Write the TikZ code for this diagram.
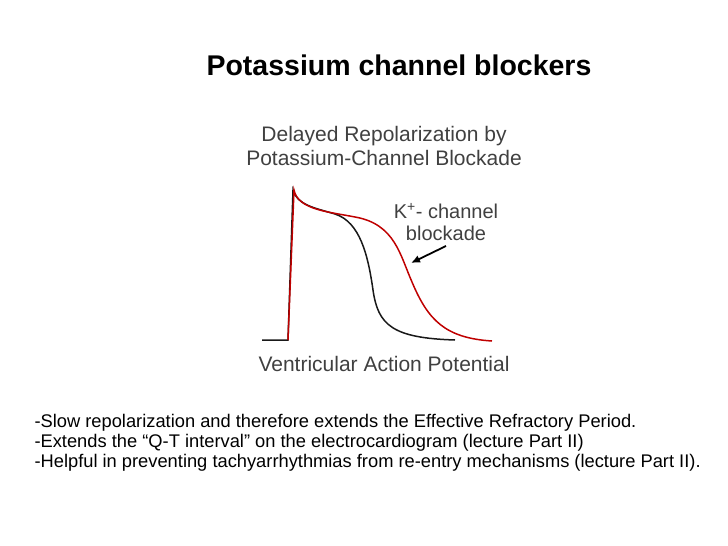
\documentclass[tikz,border=0pt]{standalone}
\usepackage{fontspec}
\usetikzlibrary{arrows.meta}
\setmainfont{Liberation Sans}
\begin{document}
\begin{tikzpicture}[x=1pt,y=-1pt,
  gt/.style={text=black!75,font=\fontsize{21}{24}\selectfont,align=center},
  bt/.style={anchor=west,font=\fontsize{18.3}{22}\selectfont}]
\useasboundingbox (0,0) rectangle (728,546);
\node[font=\bfseries\fontsize{28.5}{32}\selectfont] (title) at (399,65) {Potassium channel blockers};
\node[gt] (t1) at (384,146) {Delayed Repolarization by\\Potassium-Channel Blockade};
\node[gt] (t2) at (384,364) {Ventricular Action Potential};
\node[gt,font=\fontsize{20}{22}\selectfont] (k) at (446,222) {K\textsuperscript{+}- channel\\blockade};
\coordinate (ae) at (411,263);
\draw[line width=1.8pt,-{Latex[length=9pt,width=8pt]}] (446,246) -- (ae);
\draw[line width=1.5pt,black!90] (262,340) -- (288,340) -- (293,190)
  .. controls (297,205) and (315,208) .. (335,214)
  .. controls (360,222) and (368,255) .. (373,290)
  .. controls (378,325) and (392,338) .. (455,340);
\draw[line width=1.5pt,red!75!black] (288,340) -- (294,190)
  .. controls (298,210) and (330,212) .. (355,217)
  .. controls (395,224) and (400,255) .. (412,282)
  .. controls (428,320) and (445,338) .. (492,341);
\node[bt] (l1) at (31,423) {-Slow repolarization and therefore extends the Effective Refractory Period.};
\node[bt] (l2) at (31,443) {-Extends the “Q-T interval” on the electrocardiogram (lecture Part II)};
\node[bt] (l3) at (31,463) {-Helpful in preventing tachyarrhythmias from re-entry mechanisms (lecture Part II).};
\end{tikzpicture}
\end{document}
